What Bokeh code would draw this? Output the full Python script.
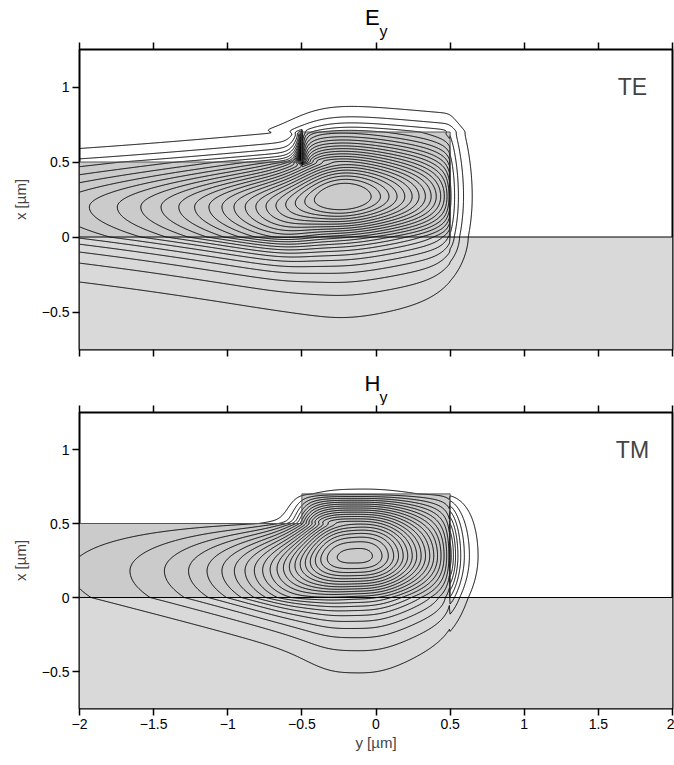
import numpy as np
from bokeh.plotting import figure
from bokeh.layouts import column
from bokeh.models import Range1d, FixedTicker, LinearAxis, Label
from bokeh.core.properties import value
from bokeh.embed import file_html
from bokeh.resources import INLINE

# ---------------- axes ----------------
y_limits = [-2.0, 2.0]          # horizontal axis  (y [µm])
x_limits = [-0.75, 1.25]        # vertical axis    (x [µm])
y_ticks = [-2, -1.5, -1, -0.5, 0, 0.5, 1, 1.5, 2]
y_tick_labels = ["\u22122", "\u22121.5", "\u22121", "\u22120.5", "0", "0.5", "1", "1.5", "2"]
x_ticks = [-0.5, 0, 0.5, 1]
x_tick_labels = ["\u22120.5", "0", "0.5", "1"]

# ---------------- waveguide cross-section (µm) ----------------
substrate_y = [-2.0, 2.0]
substrate_x = [-0.75, 0.0]
rib_y = [-2.0, -2.0, -0.5, -0.5, 0.5, 0.5]
rib_x = [0.0, 0.5, 0.5, 0.7, 0.7, 0.0]

# ---------------- contour levels ----------------
levels = [0.04, 0.08, 0.12, 0.16, 0.20, 0.24, 0.28, 0.32, 0.36, 0.40, 0.44, 0.48,
          0.52, 0.56, 0.60, 0.64, 0.68, 0.72, 0.76, 0.80, 0.84, 0.88, 0.92]

# ---------------- mode-shape parameters ----------------
# lateral: [centre y0, peak, a, kappa_far, dkappa_near, b, curvature, power, decay right of rib]
te_lateral = [-0.23, 0.99, 0.25, 1.02, 0.0, 1.0, 0.11, 2, 11.0]
tm_lateral = [-0.15, 0.90, 0.30, 1.73, 1.09, 0.30, 0.0, 3, 10.0]
# vertical: [centre, lower width, upper width (or zero), top, substrate decay, cover decay]
te_core = [0.27, 0.315, 0.355, 0.7, 4.6, 10.0]
te_slab = [0.20, 0.40, 0.30, 0.5, 5.5, 10.0]
tm_core = [0.28, 0.318, 0.72, 0.7, 4.56, 14.0]
tm_slab = [0.18, 0.37, 0.52, 0.5, 6.7, 14.0]
# walls: [blend slab side, blend at step, right dip, right dip len, right jump, flatten,
#         left dip, left dip len, left ridge, left ridge decay]
te_walls = [0.2, 0.02, 0.30, 0.12, 0.39, 0.43, 0.5, 0.05, 1.0, 30.0]
tm_walls = [0.2, 0.10, 0.48, 0.09, 1.0, 1.0, 0.0, 0.05, 0.0, 30.0]

# ---------------- titles ----------------
te_title = ["E", "y"]
tm_title = ["H", "y"]
mode_names = ["TE", "TM"]


def smooth_step(z):
    return 0.5 * (1.0 + np.tanh(z))


def vertical(x, p, upper):
    xc, wl, wu, top, gs, ga = p
    lower = np.exp(-((x - xc) / wl) ** 2)
    if upper == "cos":
        up = np.cos(0.5 * np.pi * np.clip((x - xc) / (wu - xc), 0, 1))
        up_top = np.cos(0.5 * np.pi * (top - xc) / (wu - xc))
    else:
        up = np.exp(-((x - xc) / wu) ** 2)
        up_top = np.exp(-((top - xc) / wu) ** 2)
    inside = np.where(x < xc, lower, up)
    x0 = np.exp(-(xc / wl) ** 2)
    return np.where(x < 0, x0 * np.exp(gs * x),
                    np.where(x <= top, inside, up_top * np.exp(-ga * (x - top))))


def lateral(y, p, eps=0.015):
    y0, peak, a, kf, dk, b, c, pw, gr = p
    d = np.abs(y - y0)
    s = (d ** pw + a ** pw) ** (1.0 / pw) - a
    ln = -kf * s - dk * b * (1 - np.exp(-s / b)) + c * s * s
    ln = ln - gr * eps * np.logaddexp(0, (y - 0.5) / eps)
    return peak * np.exp(ln)


def field(Y, X, lat, core, slab, walls, upper):
    ds, dw, aR, lR, jR, q, aL, lL, jL, gL = walls
    eps = 0.015 + 0.2 * np.clip(-X, 0, None)
    L = lateral(Y, lat, eps)
    Xc = vertical(X, core, upper)
    Xs = vertical(X, slab, upper)
    band_top = smooth_step((X - 0.5) / 0.015) * smooth_step((0.7 - X) / 0.015)
    delta = ds + (dw - ds) * band_top
    w = smooth_step((Y + 0.5) / delta)
    F = L * (w * Xc + (1 - w) * Xs)
    # right wall: dip inside the rib, jump outside; both fade into the substrate
    m_wall = smooth_step((0.7 - X) / 0.015) * np.exp(np.minimum(X, 0) / 0.15)
    Xc_eff = np.where(X < 0, vertical(np.array(0.0), core, upper), Xc)
    g_out = jR * np.maximum(Xc_eff, 1e-6) ** (q - 1)
    F = np.where(Y < 0.5, F * (1 - aR * m_wall * np.exp(-(0.5 - Y) / lR)),
                 F * (1 + m_wall * (g_out - 1)))
    # left wall (above the slab)
    L_wall = lateral(np.array(-0.5), lat)
    F = np.where(Y > -0.5, F * (1 - aL * band_top * np.exp(-(Y + 0.5) / lL)),
                 F + band_top * jL * L_wall * Xc * np.exp(-gL * (-0.5 - Y)))
    return F


yy = np.linspace(y_limits[0], y_limits[1], 801)
xx = np.linspace(x_limits[0], x_limits[1], 401)
YG, XG = np.meshgrid(yy, xx)
F_te = field(YG, XG, te_lateral, te_core, te_slab, te_walls, "gauss")
F_tm = field(YG, XG, tm_lateral, tm_core, tm_slab, tm_walls, "cos")

FONT = "Liberation Sans"
TITLE_H = 42


def title_strip(letters, main_y, sub_y):
    t = figure(width=674, height=TITLE_H, x_range=Range1d(*y_limits), y_range=Range1d(0, TITLE_H),
               x_axis_type=None, y_axis_type=None, output_backend="svg", toolbar_location=None,
               min_border_left=79, min_border_right=2, min_border_top=0, min_border_bottom=0)
    t.outline_line_color = None
    t.grid.visible = False
    t.text(x=[-0.024], y=[main_y], text=[letters[0]], text_align="center", text_baseline="middle",
           text_font=value(FONT), text_font_size="22px", text_color="black")
    t.text(x=[0.05], y=[sub_y], text=[letters[1]], text_align="center", text_baseline="middle",
           text_font=value(FONT), text_font_size="16px", text_color="black")
    return t


def panel(F, mode, height, bottom, labels_below):
    p = figure(width=674, height=height, x_range=Range1d(*y_limits), y_range=Range1d(*x_limits),
               x_axis_type=None, y_axis_type=None, output_backend="svg", toolbar_location=None,
               min_border_left=79, min_border_right=2, min_border_top=7, min_border_bottom=bottom)
    p.outline_line_color = "black"
    p.outline_line_width = 2
    p.background_fill_color = "white"
    p.border_fill_color = "white"

    def style(ax):
        ax.axis_line_color = None
        ax.major_tick_line_color = "black"
        ax.major_tick_line_width = 1.5
        ax.major_tick_out = 7
        ax.major_tick_in = 0
        ax.minor_tick_line_color = None
        ax.major_label_text_font = FONT
        ax.major_label_text_font_size = "14px"
        ax.major_label_text_color = "black"
        ax.axis_label_text_font = FONT
        ax.axis_label_text_font_size = "15px"
        ax.axis_label_text_font_style = "normal"

    def hide_labels(ax):
        ax.major_label_text_color = None
        ax.major_label_text_font_size = "1px"
        ax.major_label_standoff = 0

    left = LinearAxis(ticker=FixedTicker(ticks=x_ticks),
                      major_label_overrides=dict(zip(x_ticks, x_tick_labels)),
                      axis_label="x [\u00b5m]")
    style(left)
    left.major_label_standoff = 3
    left.axis_label_standoff = 10
    p.add_layout(left, "left")

    above = LinearAxis(ticker=FixedTicker(ticks=y_ticks))
    style(above)
    hide_labels(above)
    p.add_layout(above, "above")

    below = LinearAxis(ticker=FixedTicker(ticks=y_ticks),
                       major_label_overrides=dict(zip(y_ticks, y_tick_labels)))
    style(below)
    if labels_below:
        below.axis_label = "y [\u00b5m]"
        below.major_label_standoff = 3
        below.axis_label_standoff = 2
    else:
        hide_labels(below)
    p.add_layout(below, "below")

    p.quad(left=substrate_y[0], right=substrate_y[1], bottom=substrate_x[0], top=substrate_x[1],
           fill_color="#d9d9d9", line_color=None)
    p.patch(rib_y, rib_x, fill_color="#cbcbcb", line_color=None)
    p.contour(yy, xx, F, levels, line_color="black", line_width=1.0)
    p.line(rib_y[1:], rib_x[1:], line_color="#555555", line_width=1)
    p.line(substrate_y, [substrate_x[1], substrate_x[1]], line_color="black", line_width=1)

    p.add_layout(Label(x=1.73, y=1.0, text=mode, text_align="center", text_baseline="middle",
                       text_font=FONT, text_font_size="23px"))
    return p


t1 = title_strip(te_title, TITLE_H - 17, TITLE_H - 31)
p1 = panel(F_te, mode_names[0], 321, 14, False)
t2 = title_strip(tm_title, TITLE_H - 20, TITLE_H - 34)
p2 = panel(F_tm, mode_names[1], 357, 54, True)
layout = column(t1, p1, t2, p2, spacing=0)

open("out.html", "w").write(file_html(layout, INLINE))
